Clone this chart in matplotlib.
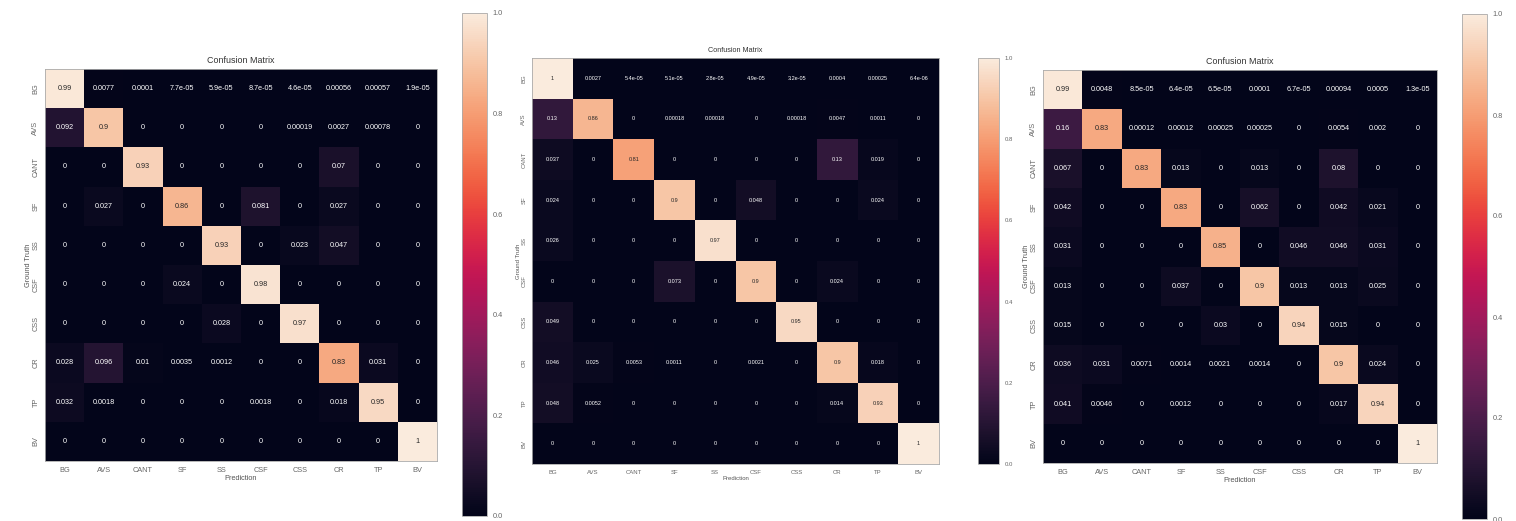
import numpy as np
import matplotlib
matplotlib.use('Agg')
import matplotlib.pyplot as plt
import seaborn as sns

plt.rcParams['font.family'] = ['Liberation Sans', 'DejaVu Sans']

classes = ['BG', 'AVS', 'CANT', 'SF', 'SS', 'CSF', 'CSS', 'CR', 'TP', 'BV']

cm_left = [
    [0.99, 0.0077, 0.0001, 7.7e-05, 5.9e-05, 8.7e-05, 4.6e-05, 0.00056, 0.00057, 1.9e-05],
    [0.092, 0.9, 0, 0, 0, 0, 0.00019, 0.0027, 0.00078, 0],
    [0, 0, 0.93, 0, 0, 0, 0, 0.07, 0, 0],
    [0, 0.027, 0, 0.86, 0, 0.081, 0, 0.027, 0, 0],
    [0, 0, 0, 0, 0.93, 0, 0.023, 0.047, 0, 0],
    [0, 0, 0, 0.024, 0, 0.98, 0, 0, 0, 0],
    [0, 0, 0, 0, 0.028, 0, 0.97, 0, 0, 0],
    [0.028, 0.096, 0.01, 0.0035, 0.0012, 0, 0, 0.83, 0.031, 0],
    [0.032, 0.0018, 0, 0, 0, 0.0018, 0, 0.018, 0.95, 0],
    [0, 0, 0, 0, 0, 0, 0, 0, 0, 1],
]

cm_middle = [
    [1, 0.0027, 5.4e-05, 5.1e-05, 2.8e-05, 4.9e-05, 3.2e-05, 0.0004, 0.00025, 6.4e-06],
    [0.13, 0.86, 0, 0.00018, 0.00018, 0, 0.00018, 0.0047, 0.0011, 0],
    [0.037, 0, 0.81, 0, 0, 0, 0, 0.13, 0.019, 0],
    [0.024, 0, 0, 0.9, 0, 0.048, 0, 0, 0.024, 0],
    [0.026, 0, 0, 0, 0.97, 0, 0, 0, 0, 0],
    [0, 0, 0, 0.073, 0, 0.9, 0, 0.024, 0, 0],
    [0.049, 0, 0, 0, 0, 0, 0.95, 0, 0, 0],
    [0.046, 0.025, 0.0053, 0.0011, 0, 0.0021, 0, 0.9, 0.018, 0],
    [0.048, 0.0052, 0, 0, 0, 0, 0, 0.014, 0.93, 0],
    [0, 0, 0, 0, 0, 0, 0, 0, 0, 1],
]

cm_right = [
    [0.99, 0.0048, 8.5e-05, 6.4e-05, 6.5e-05, 0.0001, 6.7e-05, 0.00094, 0.0005, 1.3e-05],
    [0.16, 0.83, 0.00012, 0.00012, 0.00025, 0.00025, 0, 0.0054, 0.002, 0],
    [0.067, 0, 0.83, 0.013, 0, 0.013, 0, 0.08, 0, 0],
    [0.042, 0, 0, 0.83, 0, 0.062, 0, 0.042, 0.021, 0],
    [0.031, 0, 0, 0, 0.85, 0, 0.046, 0.046, 0.031, 0],
    [0.013, 0, 0, 0.037, 0, 0.9, 0.013, 0.013, 0.025, 0],
    [0.015, 0, 0, 0, 0.03, 0, 0.94, 0.015, 0, 0],
    [0.036, 0.031, 0.0071, 0.0014, 0.0021, 0.0014, 0, 0.9, 0.024, 0],
    [0.041, 0.0046, 0, 0.0012, 0, 0, 0, 0.017, 0.94, 0],
    [0, 0, 0, 0, 0, 0, 0, 0, 0, 1],
]

W, H = 1516, 521
fig = plt.figure(figsize=(W / 100, H / 100), dpi=100)


def px_box(x0, y0, x1, y1):
    # pixel box (top-left origin) -> figure fraction rect
    return [x0 / W, 1 - y1 / H, (x1 - x0) / W, (y1 - y0) / H]


def draw_cm(cm, heat_box, cbar_box, annot_size, tick_size, title_size):
    ax = fig.add_axes(px_box(*heat_box))
    cax = fig.add_axes(px_box(*cbar_box))
    sns.heatmap(np.array(cm), annot=True, fmt='.2g', vmin=0, vmax=1,
                ax=ax, cbar_ax=cax, square=False,
                xticklabels=classes, yticklabels=classes,
                annot_kws={'size': annot_size})
    ax.set_title('Confusion Matrix', fontsize=title_size, color='#333333', pad=4)
    ax.set_xlabel('Prediction', fontsize=tick_size, color='#555555', labelpad=1)
    ax.set_ylabel('Ground Truth', fontsize=tick_size, color='#555555', labelpad=0)
    ax.tick_params(length=0, labelsize=tick_size, labelcolor='#666666', pad=4)
    plt.setp(ax.get_yticklabels(), rotation=90, va='center')
    plt.setp(ax.get_xticklabels(), rotation=0)
    for s in ax.spines.values():
        s.set_visible(True)
        s.set_color('#aaaaaa')
        s.set_linewidth(0.6)
    cbar = ax.collections[0].colorbar
    cbar.set_ticks([0, 0.2, 0.4, 0.6, 0.8, 1.0])
    cbar.set_ticklabels(['0.0', '0.2', '0.4', '0.6', '0.8', '1.0'])
    cax.tick_params(length=0, labelsize=tick_size, labelcolor='#666666', pad=4)
    cbar.outline.set_visible(True)
    cbar.outline.set_edgecolor('#aaaaaa')
    cbar.outline.set_linewidth(0.6)


draw_cm(cm_left, (45, 69, 437, 461), (462, 13, 487, 516), 5.2, 5.3, 6.4)
draw_cm(cm_middle, (532, 58, 939, 464), (978, 58, 999, 464), 4.0, 4.3, 5.2)
draw_cm(cm_right, (1043, 70, 1437, 463), (1462, 14, 1487, 519), 5.2, 5.3, 6.4)

fig.savefig('out.png', dpi=100)
